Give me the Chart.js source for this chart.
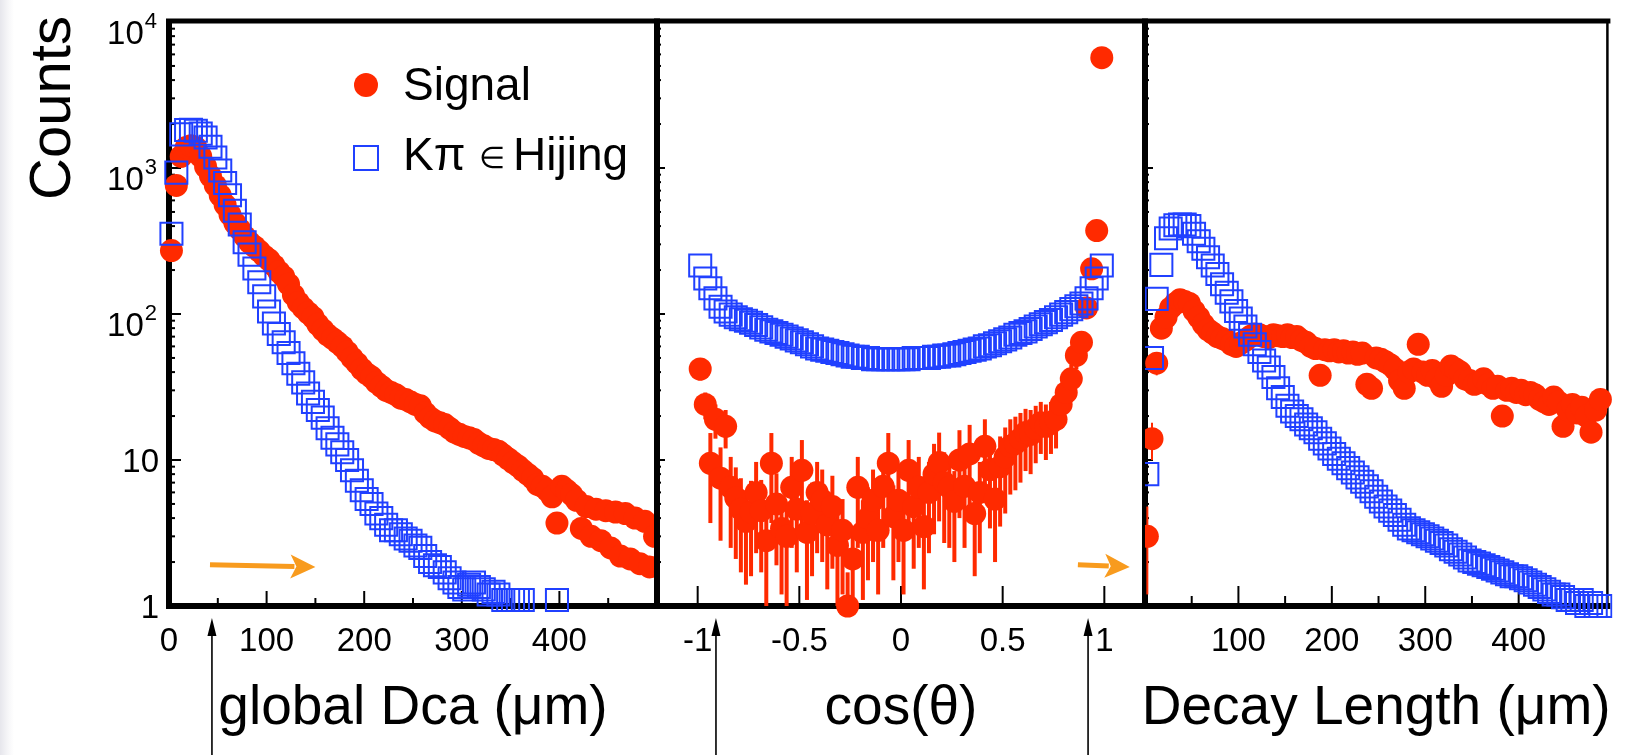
<!DOCTYPE html>
<html>
<head>
<meta charset="utf-8">
<script src="https://cdn.jsdelivr.net/npm/chart.js@4.4.1/dist/chart.umd.min.js"></script>
<style>
  body { margin: 0; background: #fff; }
  #wrap { position: relative; width: 1625px; height: 755px; overflow: hidden;
          background: linear-gradient(to right, #e6e6ec 0px, #f6f6f8 8px, #fff 14px); }
  canvas { position: absolute; left: 0; top: 0; }
</style>
</head>
<body>
<div id="wrap">
  <canvas id="dcaChart" width="1625" height="755"></canvas>
  <canvas id="cosChart" width="1625" height="755"></canvas>
  <canvas id="decayChart" width="1625" height="755"></canvas>
</div>
<script>
const RED = '#ff2a00';
const BLUE = '#2040ff';
const ORANGE = '#f89b1e';
const FONT = '"Liberation Sans", Arial, Helvetica, sans-serif';

function binCenters(start, width, n) {
  const out = [];
  for (let i = 0; i < n; i++) out.push(start + width * (i + 0.5));
  return out;
}

// ---- global Dca (um), 5 um bins from 0 to 500
const dcaBins = binCenters(0, 5, 100);
const dcaSignal = [
  272, 760, 1200, 1380, 1420, 1380, 1200, 1020, 880, 760,
  650, 560, 480, 420, 380, 340, 310, 290, 270, 250,
  235, 215, 195, 180, 160, 135, 120, 110, 102, 95,
  85, 78, 72, 68, 64, 60, 55, 50, 46, 42,
  39, 37, 34, 32, 30, 29, 28, 26.5, 26, 25,
  24, 23.5, 21, 19.5, 18.5, 18, 17.5, 16.5, 15.5, 15,
  14.5, 14.2, 13.8, 13, 12.5, 12, 11.8, 11.5, 10.8, 10.2,
  9.6, 9.1, 8.5, 8, 7.5, 6.8, 6.6, 6.2, 5.6, 3.7,
  6.6, 6.2, 5.8, 5.3, 3.4, 4.8, 3.0, 4.6, 2.8, 4.5,
  2.5, 4.4, 2.2, 4.3, 2.1, 4.0, 1.95, 3.8, 1.85, 3.0
];
const dcaHijing = [
  355, 930, 1700, 1820, 1830, 1800, 1720, 1620, 1400, 1180,
  960, 790, 650, 510, 410, 310, 255, 205, 165, 132,
  104, 86, 73, 64, 54, 46, 39, 34, 28.5, 25,
  22, 19.5, 16.5, 14.2, 12.8, 11.3, 10, 8.5, 7.2, 6.2,
  5.4, 5.0, 4.3, 4.0, 3.6, 3.3, 3.3, 3.1, 2.9, 2.8,
  2.6, 2.5, 2.2, 2.0, 1.9, 1.85, 1.7, 1.55, 1.45, 1.35,
  1.3, 1.4, 1.45, 1.35, 1.3, 1.2, 1.25, 1.2, 1.1, 1.1,
  1.1, 1.1, 1.1, null, null, null, null, null, null, 1.1,
  null, null, null, null, null, null, null, null, null, null,
  null, null, null, null, null, null, null, null, null, null
];
const dcaTickValues = [0, 100, 200, 300, 400];
const dcaTickLabels = ['0', '100', '200', '300', '400'];
const dcaCuts = [44];
const dcaArrow = [42, 1.92, 150, 1.85];

// ---- cos(theta), 0.025 bins from -1 to 1
const cosBins = binCenters(-1, 0.025, 80);
const cosSignal = [
  42, 24, 9.5, 19, 7.5, 17, 6.5, 5.5, 4.6, 3.8,
  4.4, 6.0, 4.5, 2.8, 9.5, 5.0, 3.4, 3.0, 6.5, 4.6,
  8.5, 3.2, 4.3, 6.0, 5.3, 3.6, 4.8, 2.6, 3.3, 1.0,
  2.1, 6.5, 3.2, 4.0, 5.3, 3.3, 6.6, 9.5, 4.1, 5.3,
  3.3, 8.5, 4.8, 6.5, 3.5, 6.0, 8.0, 9.6, 7.0, 6.5,
  5.2, 10, 6.6, 11, 4.3, 6.0, 12.4, 8.6, 5.4, 9,
  10.5, 12.4, 13, 14, 15.4, 15, 16.5, 18, 17, 18,
  19, 24, 29, 36, 52, 64, 110, 204, 373, 5700
];
const cosSignalErr = [
  7, 5, 5.8, 5, 4.7, 5, 4.0, 3.4, 2.9, 2.4,
  2.8, 3.7, 2.8, 1.8, 5.8, 3.1, 2.2, 2.0, 4.0, 2.9,
  5.2, 2.1, 2.7, 3.7, 3.3, 2.3, 3.0, 1.7, 2.1, 0.7,
  1.4, 4.0, 2.1, 2.5, 3.3, 2.1, 4.1, 5.8, 2.6, 3.3,
  2.1, 5.2, 3.0, 4.0, 2.2, 3.7, 4.9, 5.8, 4.3, 4.0,
  3.2, 6.0, 4.1, 6.4, 2.7, 3.7, 6.6, 5.2, 3.4, 5.5,
  6.2, 6.6, 6.8, 7, 7, 7, 7, 7, 7, 7,
  7, 7.5, 8, 9, 10, 11, 14, 18, 25, 90
];
const cosHijing = [
  215, 175, 150, 128, 112, 104, 99, 95, 92, 90,
  87, 84, 81, 78, 76, 74, 72, 70, 68, 66,
  64, 62, 60, 58, 57, 56, 55, 54, 53, 52,
  51, 51, 50, 50, 49, 49, 49, 49, 49, 49,
  49, 49, 50, 50, 50, 50, 51, 51, 52, 52,
  53, 54, 55, 56, 57, 58, 60, 61, 63, 65,
  67, 69, 72, 74, 76, 79, 82, 85, 88, 91,
  95, 99, 103, 108, 113, 118, 128, 150, 175, 215
];
const cosTickValues = [-1, -0.5, 0, 0.5, 1];
const cosTickLabels = ['-1', '-0.5', '0', '0.5', '1'];
const cosCuts = [-0.91, 0.92];
const cosArrow = [0.87, 1.92, 1.125, 1.85];

// ---- decay length (um), 5 um bins
const decayBins = binCenters(0, 5, 98);
const decaySignal = [
  3.0, 14, 46, 80, 95, 110, 118, 125, 122, 118,
  105, 95, 85, 78, 74, 70, 68, 66, 62, 60,
  63, 66, 70, 73, 72, 70, 69, 72, 71, 70,
  72, 69, 70, 66, 64, 60, 58, 38, 57, 56,
  57, 55, 56, 54, 55, 53, 54, 33, 31, 50,
  49, 47, 45, 42, 35, 31, 40, 42, 62, 40,
  38, 41, 36, 32, 38, 44, 42, 40, 36, 35,
  33, 34, 36, 33, 31, 32, 20, 30, 31, 29,
  30, 28, 29, 28, 26, 25, 24, 27, 25, 17,
  22, 24, 21, 23, 20, 15.5, 22, 26
];
const decaySignalErr = [1.8, 4, 8];
const decayHijing = [
  8, 50, 127, 217, 330, 385, 405, 410, 410, 400,
  355, 315, 280, 245, 215, 188, 160, 140, 122, 105,
  93, 82, 72, 62, 55, 48, 43, 37, 31, 27,
  23.5, 21.5, 20, 19, 17.5, 16.5, 15.5, 14, 13, 12,
  11, 10.2, 9.5, 8.8, 8.2, 7.6, 7.1, 6.6, 6.1, 5.6,
  5.2, 4.8, 4.5, 4.2, 3.9, 3.6, 3.4, 3.3, 3.2, 3.1,
  3.0, 2.9, 2.8, 2.7, 2.6, 2.45, 2.35, 2.25, 2.15, 2.05,
  2.0, 1.95, 1.9, 1.85, 1.8, 1.75, 1.7, 1.65, 1.6, 1.6,
  1.55, 1.5, 1.45, 1.4, 1.35, 1.3, 1.25, 1.2, 1.2, 1.15,
  1.1, 1.1, 1.05, 1.1, 1.0, 1.05, 1.0, 1.0
];
const decayTickValues = [100, 200, 300, 400];
const decayTickLabels = ['100', '200', '300', '400'];

const yTickValues = [1, 10, 100, 1000, 10000];
const yTickLabels = ['1', '10', '10^2', '10^3', '10^4'];

function seg(ctx, x0, y0, x1, y1) {
  ctx.beginPath();
  ctx.moveTo(x0, y0);
  ctx.lineTo(x1, y1);
  ctx.stroke();
}

function panelPlugin(cfg) {
  return {
    id: 'panel',
    beforeDatasetsDraw(chart) {
      const ctx = chart.ctx, a = chart.chartArea;
      const xs = chart.scales.x, ys = chart.scales.y;
      ctx.save();
      ctx.strokeStyle = '#000';
      ctx.lineWidth = 2;
      // log ticks on the left axis, pointing inwards
      for (let d = 0; d < 4; d++) {
        for (let k = 1; k <= 9; k++) {
          const py = ys.getPixelForValue(k * Math.pow(10, d));
          seg(ctx, a.left, py, a.left + (k === 1 ? cfg.yMajorLen : cfg.yMinorLen), py);
        }
      }
      cfg.xMajor.forEach(v => {
        const px = xs.getPixelForValue(v);
        seg(ctx, px, a.bottom, px, a.bottom - cfg.xMajorLen);
      });
      cfg.xMinor.forEach(v => {
        const px = xs.getPixelForValue(v);
        seg(ctx, px, a.bottom, px, a.bottom - cfg.xMinorLen);
      });
      // frame
      ctx.lineWidth = 5;
      seg(ctx, a.left - 3, a.top - 1, a.right + 3, a.top - 1);
      ctx.lineWidth = 6;
      seg(ctx, a.left - 3, a.bottom, a.right + 3, a.bottom);
      seg(ctx, a.left, a.top - 3, a.left, a.bottom + 3);
      if (cfg.rightEdge) {
        ctx.lineWidth = 2.5;
        seg(ctx, a.right, a.top, a.right, a.bottom);
      }
      // error bars of the signal
      if (cfg.signalErr) {
        ctx.strokeStyle = RED;
        ctx.lineWidth = cfg.errWidth;
        cfg.signalErr.forEach((e, i) => {
          const v = cfg.signal[i];
          if (v == null || e == null) return;
          const px = xs.getPixelForValue(cfg.bins[i]);
          const lo = Math.max(1, v - e);
          seg(ctx, px, ys.getPixelForValue(lo), px, ys.getPixelForValue(v + e));
        });
      }
      ctx.restore();
    },
    afterDraw(chart) {
      const ctx = chart.ctx, a = chart.chartArea;
      const xs = chart.scales.x, ys = chart.scales.y;
      ctx.save();
      ctx.fillStyle = '#000';
      ctx.font = '33px ' + FONT;
      ctx.textAlign = 'center';
      ctx.textBaseline = 'alphabetic';
      cfg.tickValues.forEach((v, i) => {
        ctx.fillText(cfg.tickLabels[i], xs.getPixelForValue(v), 651);
      });

      if (cfg.yLabels) {
        const right = a.left - 12;
        yTickValues.forEach((v, i) => {
          const py = ys.getPixelForValue(v);
          const parts = yTickLabels[i].split('^');
          ctx.textAlign = 'right';
          if (parts.length === 1) {
            ctx.font = '33px ' + FONT;
            ctx.fillText(parts[0], right + 2, py + 12);
          } else {
            ctx.font = '22px ' + FONT;
            const w = ctx.measureText(parts[1]).width;
            ctx.fillText(parts[1], right, py + 6);
            ctx.font = '33px ' + FONT;
            ctx.fillText(parts[0], right - w - 1, py + 22);
          }
        });
        ctx.save();
        ctx.font = '58px ' + FONT;
        ctx.textAlign = 'center';
        ctx.translate(70, 108);
        ctx.rotate(-Math.PI / 2);
        ctx.fillText('Counts', 0, 0);
        ctx.restore();
      }

      ctx.font = '55px ' + FONT;
      ctx.textAlign = 'center';
      ctx.fillText(cfg.title, (a.left + a.right) / 2, 724);

      if (cfg.legend) {
        ctx.fillStyle = RED;
        ctx.beginPath();
        ctx.arc(366, 85, 12, 0, Math.PI * 2);
        ctx.fill();
        ctx.strokeStyle = BLUE;
        ctx.lineWidth = 2;
        ctx.strokeRect(354, 146, 24, 24);
        ctx.fillStyle = '#000';
        ctx.textAlign = 'left';
        ctx.font = '46px ' + FONT;
        ctx.fillText('Signal', 403, 100);
        ctx.fillText('K\u03c0', 403, 170);
        ctx.font = '30px ' + FONT;
        ctx.fillText('\u2208', 479, 168);
        ctx.font = '46px ' + FONT;
        ctx.fillText('Hijing', 513, 170);
      }

      // orange arrow
      if (cfg.arrow) {
        const [x0, y0, x1, y1] = cfg.arrow;
        const p0 = [xs.getPixelForValue(x0), ys.getPixelForValue(y0)];
        const p1 = [xs.getPixelForValue(x1), ys.getPixelForValue(y1)];
        const ang = Math.atan2(p1[1] - p0[1], p1[0] - p0[0]);
        const headLen = 25, headHalf = 12;
        const bx = p1[0] - headLen * Math.cos(ang), by = p1[1] - headLen * Math.sin(ang);
        ctx.strokeStyle = ORANGE;
        ctx.fillStyle = ORANGE;
        ctx.lineWidth = 5;
        seg(ctx, p0[0], p0[1], bx + 4 * Math.cos(ang), by + 4 * Math.sin(ang));
        ctx.beginPath();
        ctx.moveTo(p1[0], p1[1]);
        ctx.lineTo(bx - headHalf * Math.sin(ang), by + headHalf * Math.cos(ang));
        ctx.lineTo(bx + 6 * Math.cos(ang), by + 6 * Math.sin(ang));
        ctx.lineTo(bx + headHalf * Math.sin(ang), by - headHalf * Math.cos(ang));
        ctx.closePath();
        ctx.fill();
      }

      // cut positions below the axis
      ctx.strokeStyle = '#000';
      ctx.fillStyle = '#000';
      ctx.lineWidth = 1.6;
      cfg.cuts.forEach(v => {
        const px = xs.getPixelForValue(v);
        seg(ctx, px, 755, px, 630);
        ctx.beginPath();
        ctx.moveTo(px, 618);
        ctx.lineTo(px - 4.5, 636);
        ctx.lineTo(px + 4.5, 636);
        ctx.closePath();
        ctx.fill();
      });
      ctx.restore();
    }
  };
}

function makePanel(canvasId, cfg) {
  const points = (xs, ys) => xs.map((x, i) => ({ x: x, y: ys[i] }));
  return new Chart(document.getElementById(canvasId), {
    type: 'scatter',
    data: {
      datasets: [{
        label: 'Signal',
        data: points(cfg.bins, cfg.signal),
        pointStyle: 'circle',
        pointRadius: 11.5,
        pointBackgroundColor: RED,
        pointBorderColor: RED,
        pointBorderWidth: 0,
        clip: cfg.clip,
        order: 1
      }, {
        label: 'K\u03c0 \u2208 Hijing',
        data: points(cfg.bins, cfg.hijing),
        pointStyle: 'rect',
        pointRadius: 15.6,
        pointBackgroundColor: 'rgba(0,0,0,0)',
        pointBorderColor: BLUE,
        pointBorderWidth: 2,
        clip: cfg.clip,
        order: 0
      }]
    },
    options: {
      responsive: false,
      animation: false,
      devicePixelRatio: 1,
      events: [],
      layout: { padding: cfg.padding },
      plugins: { legend: { display: false }, tooltip: { enabled: false } },
      scales: {
        x: { type: 'linear', display: false, min: cfg.xMin, max: cfg.xMax },
        y: { type: 'logarithmic', display: false, min: 1, max: 10000 }
      }
    },
    plugins: [panelPlugin(cfg)]
  });
}

makePanel('dcaChart', {
  bins: dcaBins, signal: dcaSignal, hijing: dcaHijing, signalErr: null,
  xMin: 0, xMax: 500,
  padding: { left: 169, top: 22, right: 1625 - 657, bottom: 755 - 606 },
  clip: { left: 15, top: 15, right: 0, bottom: 15 },
  xMajor: [100, 200, 300, 400], xMajorLen: 15,
  xMinor: [50, 150, 250, 350, 450], xMinorLen: 8,
  yMajorLen: 12, yMinorLen: 6,
  tickValues: dcaTickValues, tickLabels: dcaTickLabels,
  title: 'global Dca (\u03bcm)',
  yLabels: true, legend: true,
  cuts: dcaCuts, arrow: dcaArrow
});

makePanel('cosChart', {
  bins: cosBins, signal: cosSignal, hijing: cosHijing, signalErr: cosSignalErr, errWidth: 4,
  xMin: -1.2, xMax: 1.2,
  padding: { left: 657, top: 22, right: 1625 - 1145, bottom: 755 - 606 },
  clip: { left: 15, top: 15, right: 0, bottom: 15 },
  xMajor: [-1, -0.5, 0, 0.5, 1], xMajorLen: 20,
  xMinor: [], xMinorLen: 0,
  yMajorLen: 8, yMinorLen: 4,
  tickValues: cosTickValues, tickLabels: cosTickLabels,
  title: 'cos(\u03b8)',
  cuts: cosCuts, arrow: cosArrow
});

makePanel('decayChart', {
  bins: decayBins, signal: decaySignal, hijing: decayHijing, signalErr: decaySignalErr, errWidth: 2,
  xMin: 0, xMax: 495,
  padding: { left: 1145, top: 22, right: 3, bottom: 755 - 606 },
  clip: { left: 0, top: 15, right: 5, bottom: 15 },
  xMajor: [100, 200, 300, 400], xMajorLen: 20,
  xMinor: [50, 150, 250, 350, 450], xMinorLen: 10,
  yMajorLen: 8, yMinorLen: 4,
  tickValues: decayTickValues, tickLabels: decayTickLabels,
  title: 'Decay Length (\u03bcm)',
  rightEdge: true,
  cuts: [], arrow: null
});
</script>
</body>
</html>
